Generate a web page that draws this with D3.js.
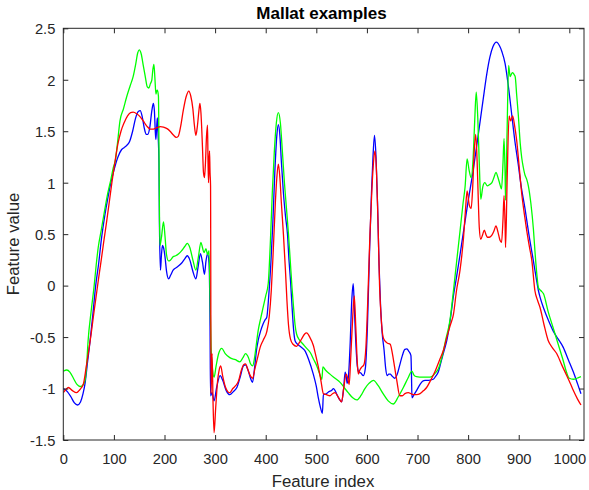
<!DOCTYPE html>
<html>
<head>
<meta charset="utf-8">
<script src="https://cdn.jsdelivr.net/npm/d3@7"></script>
<style>
  html, body { margin: 0; padding: 0; background: #fff; }
  svg { display: block; }
  text { font-family: "Liberation Sans", Arial, Helvetica, sans-serif; }
</style>
</head>
<body>
<svg id="chart" width="589" height="490"></svg>
<script>
// ---- data (feature index, feature value) ----
const titleText = "Mallat examples";
const xLabelText = "Feature index";
const yLabelText = "Feature value";
const xTicks = [0, 100, 200, 300, 400, 500, 600, 700, 800, 900, 1000];
const yTicks = [-1.5, -1, -0.5, 0, 0.5, 1, 1.5, 2, 2.5];

const blueSeries = [[0,-1.0],[8,-1.03],[15,-1.08],[22,-1.14],[28,-1.16],[34,-1.13],[39,-1.05],[43,-0.95],[48,-0.74],[53,-0.535],[58,-0.3],[64,0.0],[70,0.22],[75,0.44],[82,0.68],[88,0.85],[94,1.0],[100,1.12],[108,1.25],[115,1.32],[120,1.34],[125,1.36],[131,1.4],[137,1.5],[143,1.63],[148,1.69],[152,1.7],[156,1.64],[160,1.53],[164,1.47],[167,1.47],[171,1.54],[175,1.7],[178,1.77],[180,1.7],[182,1.48],[183,1.42],[185,1.58],[186,1.63],[187,1.5],[189,1.2],[190,0.6],[192,0.15],[194,0.3],[196,0.39],[198,0.37],[201,0.28],[204,0.14],[208,0.065],[212,0.1],[217,0.15],[225,0.18],[234,0.22],[240,0.26],[245,0.29],[250,0.25],[256,0.14],[262,0.065],[266,0.17],[271,0.31],[275,0.23],[279,0.11],[282,0.24],[285,0.31],[288,0.22],[290,-0.4],[291,-1.07],[294,-1.04],[298,-1.12],[303,-0.99],[310,-0.875],[315,-0.92],[322,-1.02],[329,-1.06],[336,-1.03],[343,-0.99],[350,-0.88],[356,-0.78],[360,-0.77],[365,-0.82],[370,-0.9],[374,-0.94],[378,-0.8],[382,-0.62],[385,-0.535],[390,-0.44],[395,-0.37],[399,-0.33],[402,-0.31],[406,-0.1],[410,0.2],[414,0.6],[418,1.1],[422,1.46],[425,1.565],[428,1.46],[431,1.2],[435,0.9],[439,0.68],[443,0.5],[446,0.25],[449,0.05],[452,-0.2],[455,-0.42],[458,-0.535],[463,-0.57],[468,-0.59],[473,-0.61],[477,-0.63],[485,-0.72],[494,-0.86],[500,-0.98],[504,-1.09],[508,-1.18],[512,-1.24],[514,-1.06],[520,-1.05],[525,-1.03],[530,-1.02],[534,-1.0],[540,-1.05],[545,-1.1],[550,-1.13],[554,-1.0],[557,-0.84],[559,-0.88],[561,-0.95],[564,-0.85],[567,-0.55],[570,-0.15],[573,0.02],[575,-0.2],[578,-0.55],[581,-0.78],[584,-0.84],[588,-0.85],[593,-0.875],[597,-0.8],[601,-0.4],[605,0.3],[609,0.9],[612,1.25],[615,1.46],[618,1.25],[621,0.8],[624,0.2],[627,-0.2],[630,-0.45],[634,-0.63],[637,-0.8],[640,-0.875],[643,-0.86],[646,-0.86],[650,-0.88],[655,-0.9],[660,-0.86],[665,-0.77],[670,-0.68],[675,-0.62],[679,-0.615],[683,-0.64],[687,-0.68],[688,-0.85],[689,-1.09],[693,-1.06],[698,-1.02],[705,-0.96],[710,-0.93],[715,-0.92],[722,-0.92],[731,-0.91],[736,-0.88],[741,-0.84],[746,-0.75],[752,-0.64],[758,-0.53],[765,-0.32],[771,-0.1],[777,0.08],[784,0.3],[791,0.53],[800,0.82],[810,1.12],[817,1.36],[823,1.57],[830,1.82],[837,2.06],[843,2.22],[849,2.32],[856,2.365],[862,2.33],[867,2.27],[873,2.16],[880,1.92],[886,1.67],[892,1.42],[899,1.18],[905,0.96],[912,0.76],[920,0.5],[929,0.24],[935,0.06],[939,-0.05],[942,-0.11],[950,-0.23],[958,-0.33],[968,-0.44],[978,-0.52],[988,-0.6],[998,-0.72],[1008,-0.84],[1016,-0.95],[1023,-1.05]];

const greenSeries = [[0,-0.83],[7,-0.82],[13,-0.84],[20,-0.9],[27,-0.96],[33,-0.98],[38,-0.97],[43,-0.92],[46,-0.78],[49,-0.535],[55,-0.25],[61,0.0],[65,0.2],[69,0.37],[75,0.54],[82,0.74],[88,0.9],[94,1.03],[99,1.15],[103,1.22],[107,1.38],[112,1.6],[119,1.72],[125,1.83],[132,1.94],[138,2.03],[143,2.15],[147,2.26],[150,2.29],[154,2.25],[158,2.14],[162,2.03],[166,1.93],[169,1.92],[172,1.96],[175,2.0],[177,2.1],[179,2.15],[181,2.02],[183,1.86],[185,1.9],[186,1.9],[188,1.84],[189,1.4],[190,0.7],[191,0.39],[194,0.47],[198,0.62],[201,0.48],[204,0.3],[208,0.24],[212,0.25],[217,0.28],[222,0.29],[228,0.31],[234,0.34],[240,0.38],[245,0.41],[250,0.37],[256,0.25],[262,0.15],[267,0.28],[272,0.42],[275,0.37],[278,0.32],[282,0.36],[285,0.3],[288,0.34],[290,-0.1],[292,-0.6],[295,-0.82],[298,-0.89],[302,-0.78],[307,-0.66],[313,-0.61],[320,-0.66],[329,-0.7],[340,-0.72],[349,-0.74],[355,-0.7],[360,-0.66],[366,-0.7],[370,-0.76],[374,-0.78],[378,-0.7],[382,-0.55],[385,-0.44],[390,-0.32],[395,-0.21],[400,-0.1],[405,0.02],[409,0.4],[413,0.9],[417,1.3],[421,1.58],[425,1.68],[429,1.58],[433,1.3],[437,1.0],[441,0.75],[445,0.5],[448,0.28],[452,-0.02],[455,-0.21],[458,-0.38],[461,-0.47],[467,-0.53],[474,-0.57],[481,-0.61],[488,-0.65],[495,-0.72],[501,-0.78],[506,-0.85],[511,-0.91],[513,-0.79],[518,-0.82],[527,-0.86],[537,-0.9],[547,-0.94],[555,-0.99],[563,-1.04],[572,-1.09],[580,-1.11],[588,-1.07],[596,-1.0],[604,-0.95],[613,-0.92],[622,-0.97],[632,-1.05],[642,-1.12],[652,-1.15],[662,-1.08],[672,-0.99],[681,-0.9],[689,-0.83],[693,-0.87],[698,-0.885],[710,-0.89],[725,-0.89],[735,-0.85],[741,-0.81],[748,-0.7],[756,-0.52],[764,-0.34],[771,-0.05],[777,0.22],[784,0.53],[790,0.8],[794,0.96],[798,1.23],[802,1.12],[806,1.05],[810,1.25],[813,1.6],[816,1.88],[819,1.64],[822,1.2],[825,0.84],[829,0.96],[833,1.0],[838,0.97],[842,0.98],[847,1.0],[851,1.05],[855,1.1],[859,1.05],[862,1.0],[866,0.94],[869,1.2],[871,1.43],[873,1.1],[874,0.83],[877,1.5],[880,2.14],[883,2.03],[886,2.06],[888,2.07],[891,2.05],[893,2.03],[896,1.85],[899,1.67],[903,1.38],[906,1.24],[909,1.15],[912,1.08],[916,1.03],[919,0.97],[924,0.8],[929,0.55],[932,0.34],[936,0.1],[939,-0.02],[944,-0.05],[949,-0.08],[958,-0.25],[968,-0.41],[978,-0.57],[988,-0.73],[995,-0.85],[1000,-0.9],[1008,-0.91],[1015,-0.9],[1023,-0.885]];

const redSeries = [[0,-1.04],[5,-1.01],[10,-0.99],[18,-1.02],[26,-1.04],[31,-1.02],[36,-0.99],[40,-0.95],[45,-0.8],[50,-0.64],[55,-0.47],[60,-0.28],[65,-0.1],[70,0.08],[75,0.25],[80,0.43],[85,0.6],[90,0.78],[96,1.0],[102,1.2],[108,1.38],[114,1.5],[120,1.58],[127,1.65],[133,1.68],[138,1.685],[145,1.67],[152,1.64],[158,1.6],[165,1.55],[172,1.52],[178,1.52],[185,1.535],[192,1.545],[198,1.54],[205,1.525],[211,1.5],[218,1.46],[223,1.44],[227,1.45],[232,1.55],[237,1.7],[243,1.84],[248,1.89],[252,1.84],[256,1.72],[259,1.56],[262,1.46],[265,1.55],[268,1.7],[270,1.77],[272,1.68],[275,1.35],[277,1.1],[279,1.05],[281,1.2],[283,1.45],[285,1.56],[286,1.2],[287,1.0],[288,1.2],[289,1.31],[290,1.1],[291,0.97],[292,-1.05],[294,-0.66],[296,-1.15],[298,-1.43],[301,-1.2],[305,-0.92],[308,-0.82],[311,-0.78],[315,-0.88],[320,-0.98],[325,-1.03],[329,-1.04],[335,-1.0],[341,-0.97],[346,-0.93],[352,-0.82],[356,-0.77],[360,-0.76],[365,-0.82],[370,-0.88],[374,-0.9],[379,-0.8],[384,-0.7],[389,-0.6],[395,-0.53],[402,-0.45],[407,-0.3],[411,-0.05],[415,0.35],[419,0.8],[422,1.05],[425,1.18],[428,1.05],[431,0.8],[435,0.5],[439,0.15],[442,-0.15],[445,-0.38],[449,-0.52],[454,-0.57],[461,-0.59],[467,-0.55],[473,-0.5],[477,-0.47],[481,-0.46],[487,-0.5],[494,-0.58],[499,-0.68],[504,-0.79],[509,-0.92],[514,-1.05],[520,-1.06],[527,-1.07],[532,-1.05],[537,-1.04],[543,-1.08],[550,-1.13],[554,-1.0],[559,-0.86],[562,-0.9],[565,-0.96],[568,-0.7],[572,-0.3],[575,-0.1],[578,-0.4],[581,-0.75],[583,-0.86],[586,-0.82],[590,-0.79],[594,-0.77],[598,-0.6],[602,-0.1],[606,0.5],[610,0.95],[613,1.2],[616,1.31],[619,1.1],[622,0.6],[625,0.0],[628,-0.3],[632,-0.5],[636,-0.54],[641,-0.56],[646,-0.57],[650,-0.65],[655,-0.8],[659,-0.92],[665,-1.07],[670,-1.07],[675,-1.05],[682,-1.04],[687,-1.05],[692,-1.06],[698,-1.06],[705,-1.05],[712,-1.02],[718,-0.99],[726,-0.92],[735,-0.83],[743,-0.73],[751,-0.63],[758,-0.5],[765,-0.38],[771,-0.28],[777,-0.05],[784,0.15],[791,0.47],[795,0.75],[798,0.92],[802,0.79],[806,0.75],[809,0.95],[812,1.3],[815,1.47],[818,1.18],[820,0.85],[822,0.57],[825,0.45],[829,0.5],[832,0.54],[835,0.5],[838,0.47],[842,0.47],[847,0.49],[851,0.53],[855,0.58],[859,0.52],[863,0.44],[866,0.42],[869,0.65],[871,0.875],[873,0.6],[874,0.37],[877,1.0],[881,1.65],[884,1.6],[888,1.65],[892,1.55],[896,1.41],[901,1.15],[906,0.89],[911,0.7],[916,0.53],[921,0.38],[926,0.24],[932,-0.05],[937,-0.14],[942,-0.21],[950,-0.38],[958,-0.53],[966,-0.6],[975,-0.66],[985,-0.77],[995,-0.875],[1002,-0.95],[1008,-1.02],[1016,-1.1],[1023,-1.16]];

const seriesList = [
  { name: "blue", color: "#0000ff", values: blueSeries },
  { name: "green", color: "#00ff00", values: greenSeries },
  { name: "red", color: "#ff0000", values: redSeries }
];

// ---- layout ----
const plotLeft = 63.3, plotRight = 584, plotTop = 28.3, plotBottom = 440;
const axisColor = "#262626";

const svg = d3.select("#chart");
const x = d3.scaleLinear().domain([0, 1029]).range([plotLeft, plotRight]);
const y = d3.scaleLinear().domain([-1.5, 2.5]).range([plotBottom, plotTop]);

svg.append("defs").append("clipPath").attr("id", "plotclip")
  .append("rect").attr("x", plotLeft).attr("y", plotTop)
  .attr("width", plotRight - plotLeft).attr("height", plotBottom - plotTop);

const line = d3.line()
  .x(d => x(d[0]))
  .y(d => y(d[1]))
  .curve(d3.curveMonotoneX);

const g = svg.append("g").attr("clip-path", "url(#plotclip)");
seriesList.forEach(s => {
  g.append("path")
    .datum(s.values)
    .attr("fill", "none")
    .attr("stroke", s.color)
    .attr("stroke-width", 1.3)
    .attr("stroke-linejoin", "round")
    .attr("d", line);
});

// ---- axes (MATLAB-style box with inward ticks) ----
const fmt = d => String(d);
const tickLen = 5;

const xAxisB = d3.axisBottom(x).tickValues(xTicks).tickSize(-tickLen).tickPadding(10).tickFormat(fmt);
const xAxisT = d3.axisTop(x).tickValues(xTicks).tickSize(-tickLen).tickFormat("");
const yAxisL = d3.axisLeft(y).tickValues(yTicks).tickSize(-tickLen).tickPadding(8).tickFormat(fmt);
const yAxisR = d3.axisRight(y).tickValues(yTicks).tickSize(-tickLen).tickFormat("");

function style(sel) {
  sel.selectAll(".domain").remove();
  sel.selectAll(".tick line").attr("stroke", axisColor).attr("stroke-width", 1);
  sel.selectAll(".tick text").attr("fill", axisColor)
    .style("font-family", '"Liberation Sans", Arial, sans-serif')
    .style("font-size", "14.7px");
}

svg.append("g").attr("transform", `translate(0,${plotBottom})`).call(xAxisB).call(style)
  .selectAll(".tick text").attr("dy", null).attr("y", 23.5);
svg.append("g").attr("transform", `translate(0,${plotTop})`).call(xAxisT).call(style);
svg.append("g").attr("transform", `translate(${plotLeft},0)`).call(yAxisL).call(style)
  .selectAll(".tick text").attr("dy", null).attr("x", -8).attr("y", 5.3);
svg.append("g").attr("transform", `translate(${plotRight},0)`).call(yAxisR).call(style);

svg.append("rect")
  .attr("x", plotLeft).attr("y", plotTop)
  .attr("width", plotRight - plotLeft).attr("height", plotBottom - plotTop)
  .attr("fill", "none").attr("stroke", axisColor).attr("stroke-width", 1);

// ---- labels ----
svg.append("text")
  .attr("x", 321.5).attr("y", 19.3)
  .attr("text-anchor", "middle")
  .attr("font-weight", "bold")
  .attr("font-size", "17px")
  .attr("fill", "#000")
  .text(titleText);

svg.append("text")
  .attr("x", 323).attr("y", 486.5)
  .attr("text-anchor", "middle")
  .attr("font-size", "16.8px")
  .attr("fill", axisColor)
  .text(xLabelText);

svg.append("text")
  .attr("transform", "translate(19,244) rotate(-90)")
  .attr("text-anchor", "middle")
  .attr("font-size", "16.8px")
  .attr("fill", axisColor)
  .text(yLabelText);
</script>
</body>
</html>
